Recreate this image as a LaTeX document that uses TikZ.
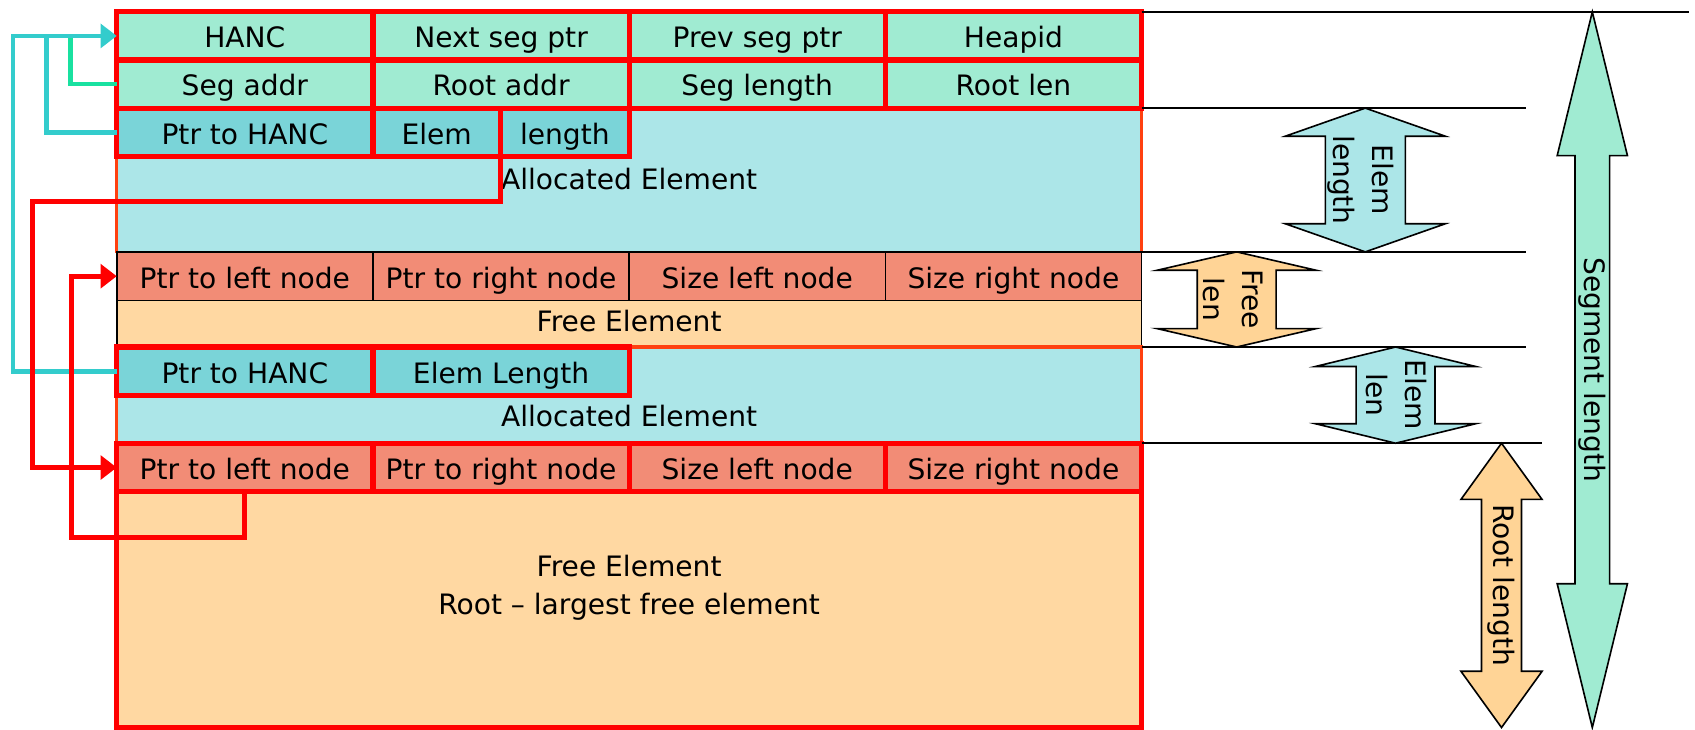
\documentclass[tikz,border=0pt]{standalone}
\usepackage{fontspec}
\setmainfont{DejaVu Sans}
\usetikzlibrary{arrows.meta}
\definecolor{mint}{RGB}{160,235,210}
\definecolor{alloclt}{RGB}{172,230,232}
\definecolor{allocdk}{RGB}{122,212,216}
\definecolor{freehd}{RGB}{242,140,118}
\definecolor{freelt}{RGB}{255,216,162}
\definecolor{linecyan}{RGB}{51,204,204}
\definecolor{linegreen}{RGB}{25,225,160}
\definecolor{allocedge}{RGB}{255,64,16}
\definecolor{arrorange}{RGB}{255,212,150}
\newcommand\vdarrow[7]{%
  \filldraw[fill=#7, draw=black, line width=1.5pt, line join=miter]
   (#1,#2) -- ({#1+#4},{#2+#6}) -- ({#1+#5},{#2+#6}) -- ({#1+#5},{#3-#6}) -- ({#1+#4},{#3-#6}) -- (#1,#3)
   -- ({#1-#4},{#3-#6}) -- ({#1-#5},{#3-#6}) -- ({#1-#5},{#2+#6}) -- ({#1-#4},{#2+#6}) -- cycle;}
\begin{document}
\begin{tikzpicture}[x=1pt,y=-1pt,
  every node/.style={font=\fontsize{26}{33}\selectfont},
  cell/.style={draw=red, line width=4.8pt, minimum height=44.5pt, minimum width=237pt, inner sep=0pt, outer sep=0pt, text height=24pt, text depth=2pt},
  thincell/.style={draw=black, line width=1.5pt, minimum height=45pt, minimum width=237pt, inner sep=0pt, outer sep=0pt, text height=24pt, text depth=2pt},
  region/.style={inner sep=0pt, outer sep=0pt, anchor=north west, minimum width=948pt},
  conn/.style={line width=4.5pt},
  tip/.style={-{Triangle[length=15pt,width=22pt]}},
  lbl/.style={inner sep=0pt, align=center},
  rlbl/.style={rotate=-90, align=center, inner sep=0pt, font=\fontsize{26}{36}\selectfont},
  guide/.style={draw=black, line width=1.5pt}
]
\useasboundingbox (0,0) rectangle (1568,675);

% regions
\node[region, fill=mint, minimum height=89pt] (hdr) at (108,11) {};
\node[region, fill=alloclt, draw=allocedge, line width=2.5pt, minimum height=133pt] (alloc1) at (108,100) {};
\node[region, fill=freelt, draw=black, line width=1.5pt, minimum height=88pt] (free1) at (108,233) {};
\node[region, fill=alloclt, draw=allocedge, line width=3pt, minimum height=89pt] (alloc2) at (108,321) {};
\node[region, fill=freelt, draw=red, line width=4.5pt, minimum height=263pt] (free2) at (108,410) {};

% header rows
\node[cell] (hanc) at (226.5,33.25) {HANC};
\node[cell] (nsp) at (463.5,33.25) {Next seg ptr};
\node[cell] (psp) at (700.5,33.25) {Prev seg ptr};
\node[cell] (hid) at (937.5,33.25) {Heapid};
\node[cell] (sega) at (226.5,77.75) {Seg addr};
\node[cell] (roota) at (463.5,77.75) {Root addr};
\node[cell] (segl) at (700.5,77.75) {Seg length};
\node[cell] (rootl) at (937.5,77.75) {Root len};

% allocated element 1
\node[cell, fill=allocdk, minimum height=45pt] (ph1) at (226.5,122.5) {Ptr to HANC};
\node[cell, fill=allocdk, minimum height=45pt, minimum width=118pt] (elem) at (404,122.5) {Elem};
\node[cell, fill=allocdk, minimum height=45pt, minimum width=119pt] (len) at (522.5,122.5) {length};
\node[lbl] (at1) at (582,166) {Allocated Element};

% free element 1
\node[thincell, fill=freehd] (pl1) at (226.5,255.5) {Ptr to left node};
\node[thincell, fill=freehd] (pr1) at (463.5,255.5) {Ptr to right node};
\node[thincell, fill=freehd] (sl1) at (700.5,255.5) {Size left node};
\node[thincell, fill=freehd] (sr1) at (937.5,255.5) {Size right node};
\node[lbl] (ft1) at (582,297) {Free Element};

% allocated element 2
\node[cell, fill=allocdk, minimum height=45pt] (ph2) at (226.5,343.5) {Ptr to HANC};
\node[cell, fill=allocdk, minimum height=45pt] (el2) at (463.5,343.5) {Elem Length};
\node[lbl] (at2) at (582,385) {Allocated Element};

% free element 2 (root)
\node[cell, fill=freehd, minimum height=45pt] (pl2) at (226.5,432.5) {Ptr to left node};
\node[cell, fill=freehd, minimum height=45pt] (pr2) at (463.5,432.5) {Ptr to right node};
\node[cell, fill=freehd, minimum height=45pt] (sl2) at (700.5,432.5) {Size left node};
\node[cell, fill=freehd, minimum height=45pt] (sr2) at (937.5,432.5) {Size right node};
\node[lbl, font=\fontsize{26}{35}\selectfont] (ft2) at (582,543.5) {Free Element\\Root \textendash{} largest free element};

% connectors
\coordinate (j1) at (12,33.25);
\coordinate (j2) at (43,33.25);
\coordinate (j3) at (65,33.25);
\draw[conn, draw=linecyan] (ph1.west) -| (j2);
\draw[conn, draw=linegreen] (sega.west) -| (j3);
\draw[conn, draw=linecyan, tip] (ph2.west) -| (j1) -- (hanc.west);

\coordinate (r1) at (30,186.5);
\coordinate (r2) at (66,497);
\draw[conn, draw=red, tip] (elem.south east) |- (r1) |- (pl2.west);
\draw[conn, draw=red, tip] (pl2.south) |- (r2) |- (pl1.west);

% guide lines
\draw[guide] (1056,11) -- (1562,11);
\draw[guide] (1056,100) -- (1412,100);
\draw[guide] (1056,233) -- (1412,233);
\draw[guide] (1056,321) -- (1412,321);
\draw[guide] (1056,410) -- (1426,410);

% dimension arrows
\vdarrow{1473}{11}{673}{32.5}{16}{133}{mint}
\vdarrow{1389}{410}{673}{37.5}{18.5}{52}{arrorange}
\vdarrow{1263}{100}{233}{74}{37}{26}{alloclt}
\vdarrow{1144}{233}{321}{73.5}{36.5}{17}{arrorange}
\vdarrow{1291}{321}{410}{74}{36.5}{18}{alloclt}

\node[rlbl] (seglab) at (1473,342) {Segment length};
\node[rlbl] (rootlab) at (1389,541.5) {Root length};
\node[rlbl] (elab1) at (1259,166.5) {Elem\\length};
\node[rlbl] (flab) at (1141,277) {Free\\len};
\node[rlbl] (elab2) at (1292,365.5) {Elem\\len};
\end{tikzpicture}
\end{document}
